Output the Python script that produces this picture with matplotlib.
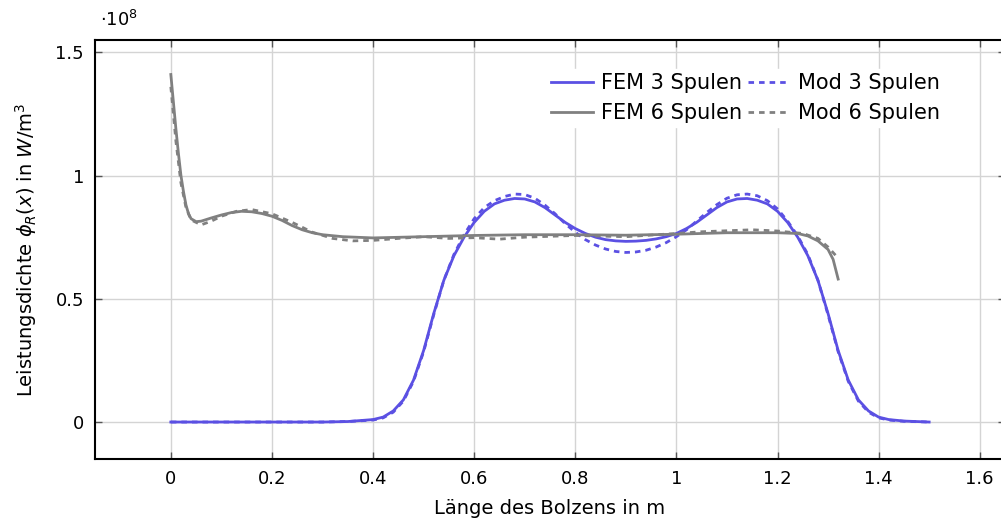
import numpy as np
import matplotlib.pyplot as plt
from matplotlib.ticker import FuncFormatter

# FEM 3 Spulen
x_fem3 = [0.0, 0.1, 0.2, 0.3, 0.35, 0.4, 0.42, 0.44, 0.46, 0.48, 0.50, 0.52, 0.54, 0.56, 0.58,
          0.60, 0.62, 0.64, 0.66, 0.68, 0.70, 0.72, 0.74, 0.76, 0.78, 0.80, 0.82, 0.84, 0.86,
          0.88, 0.90, 0.92, 0.94, 0.96, 0.98, 1.00, 1.02, 1.04, 1.06, 1.08, 1.10, 1.12, 1.14,
          1.16, 1.18, 1.20, 1.22, 1.24, 1.26, 1.28, 1.30, 1.32, 1.34, 1.36, 1.38, 1.40, 1.42,
          1.45, 1.5]
y_fem3 = [0.0, 0.0, 0.0, 0.0, 0.002, 0.01, 0.02, 0.045, 0.09, 0.17, 0.29, 0.44, 0.575, 0.675, 0.75,
          0.81, 0.855, 0.885, 0.90, 0.907, 0.905, 0.893, 0.87, 0.84, 0.81, 0.785, 0.765, 0.75, 0.74,
          0.735, 0.733, 0.734, 0.737, 0.743, 0.752, 0.765, 0.785, 0.81, 0.84, 0.87, 0.893, 0.905, 0.907,
          0.90, 0.885, 0.855, 0.81, 0.75, 0.675, 0.575, 0.44, 0.29, 0.17, 0.09, 0.045, 0.02, 0.01,
          0.004, 0.0]

# Mod 3 Spulen
x_mod3 = [0.0, 0.1, 0.2, 0.3, 0.35, 0.4, 0.42, 0.44, 0.46, 0.48, 0.50, 0.52, 0.54, 0.56, 0.58,
          0.60, 0.62, 0.64, 0.66, 0.68, 0.70, 0.72, 0.74, 0.76, 0.78, 0.80, 0.82, 0.84, 0.86,
          0.88, 0.90, 0.92, 0.94, 0.96, 0.98, 1.00, 1.02, 1.04, 1.06, 1.08, 1.10, 1.12, 1.14,
          1.16, 1.18, 1.20, 1.22, 1.24, 1.26, 1.28, 1.30, 1.32, 1.34, 1.36, 1.38, 1.40, 1.42,
          1.45, 1.5]
y_mod3 = [0.0, 0.0, 0.0, 0.0, 0.002, 0.008, 0.017, 0.04, 0.085, 0.165, 0.285, 0.435, 0.575, 0.68, 0.76,
          0.825, 0.87, 0.898, 0.915, 0.925, 0.923, 0.908, 0.88, 0.845, 0.805, 0.77, 0.74, 0.718, 0.702,
          0.692, 0.688, 0.69, 0.697, 0.71, 0.728, 0.752, 0.78, 0.815, 0.85, 0.882, 0.908, 0.922, 0.925,
          0.918, 0.898, 0.865, 0.815, 0.755, 0.68, 0.575, 0.435, 0.285, 0.165, 0.085, 0.04, 0.017, 0.008,
          0.003, 0.0]

# FEM 6 Spulen
x_fem6 = [0.0, 0.005, 0.01, 0.015, 0.02, 0.025, 0.03, 0.035, 0.04, 0.05, 0.06, 0.08, 0.10, 0.12,
          0.14, 0.16, 0.18, 0.20, 0.22, 0.24, 0.26, 0.28, 0.30, 0.34, 0.40, 0.50, 0.60, 0.70,
          0.80, 0.90, 1.00, 1.10, 1.20, 1.24, 1.26, 1.28, 1.30, 1.31, 1.32]
y_fem6 = [1.41, 1.30, 1.19, 1.09, 1.0, 0.935, 0.88, 0.845, 0.825, 0.813, 0.815, 0.828, 0.84, 0.85,
          0.855, 0.853, 0.846, 0.835, 0.818, 0.797, 0.78, 0.768, 0.76, 0.752, 0.747, 0.752, 0.757, 0.76,
          0.76, 0.758, 0.762, 0.768, 0.768, 0.765, 0.755, 0.735, 0.70, 0.66, 0.58]

# Mod 6 Spulen
x_mod6 = [0.0, 0.005, 0.01, 0.02, 0.03, 0.04, 0.06, 0.08, 0.10, 0.13, 0.16, 0.20, 0.24, 0.28,
          0.32, 0.36, 0.40, 0.45, 0.50, 0.55, 0.60, 0.65, 0.70, 0.80, 0.90, 1.00, 1.05, 1.10,
          1.15, 1.20, 1.25, 1.28, 1.30, 1.32]
y_mod6 = [1.36, 1.25, 1.14, 0.97, 0.87, 0.82, 0.80, 0.815, 0.835, 0.855, 0.862, 0.845, 0.81, 0.77,
          0.745, 0.735, 0.737, 0.745, 0.752, 0.745, 0.748, 0.742, 0.75, 0.757, 0.752, 0.765, 0.772, 0.776,
          0.78, 0.775, 0.765, 0.745, 0.71, 0.665]

x_ticks = [0, 0.2, 0.4, 0.6, 0.8, 1, 1.2, 1.4, 1.6]
y_ticks = [0, 0.5, 1, 1.5]

blue = '#5b50e3'
gray = '#808080'

plt.rcParams['font.family'] = ['DejaVu Sans']
plt.rcParams['font.size'] = 13
plt.rcParams['mathtext.fontset'] = 'dejavusans'

fig = plt.figure(figsize=(10.01, 5.2), dpi=100)
ax = fig.add_axes([95 / 1001, 1 - 459 / 520, (1005 - 95) / 1001, (459 - 40) / 520])

lw = 2.0
ax.plot(x_fem3, y_fem3, color=blue, lw=lw, label='FEM 3 Spulen')
ax.plot(x_mod3, y_mod3, color=blue, lw=lw, ls=(0, (2, 1.8)), label='Mod 3 Spulen')
ax.plot(x_fem6, y_fem6, color=gray, lw=lw, label='FEM 6 Spulen')
ax.plot(x_mod6, y_mod6, color=gray, lw=lw, ls=(0, (2, 1.8)), label='Mod 6 Spulen')

ax.set_xlim(-0.15, 1.65)
ax.set_ylim(-0.15, 1.55)
ax.set_xticks(x_ticks)
ax.set_yticks(y_ticks)
fmt = FuncFormatter(lambda v, p: ('%g' % v))
ax.xaxis.set_major_formatter(fmt)
ax.yaxis.set_major_formatter(fmt)
ax.tick_params(direction='in', top=True, right=True, length=5, width=1, color='#555555',
               labelsize=13, pad=8)
ax.grid(True, color='#d4d4d4', lw=1)
ax.set_axisbelow(True)
for s in ax.spines.values():
    s.set_linewidth(1.5)

ax.set_xlabel('Länge des Bolzens in m', fontsize=14, labelpad=8)
ax.set_ylabel(r'Leistungsdichte $\phi_R(x)$ in $W/\mathrm{m}^3$', fontsize=14, labelpad=12)
fig.text(100 / 1001, 1 - 20 / 520, r'$\cdot10^8$', fontsize=13, va='center', ha='left')

# legend order: row-wise FEM3, Mod3 / FEM6, Mod6
h, l = ax.get_legend_handles_labels()
order = [0, 2, 1, 3]
leg = ax.legend([h[i] for i in order], [l[i] for i in order], ncol=2, loc='upper right',
                bbox_to_anchor=(0.945, 0.955), frameon=True, fancybox=False, framealpha=1,
                edgecolor='white', handlelength=2.0, handletextpad=0.4, columnspacing=0.3,
                labelspacing=0.45, fontsize=15, borderpad=0.2)

plt.savefig('out.png', dpi=100)
